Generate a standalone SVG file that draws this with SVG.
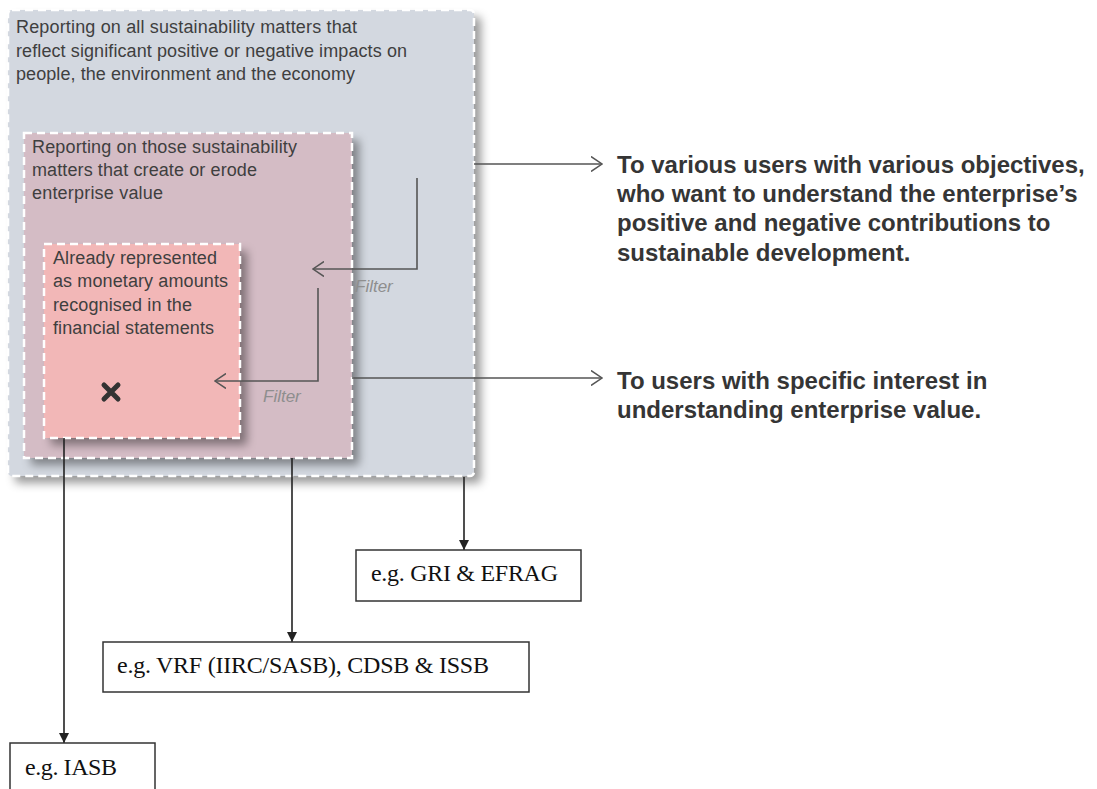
<svg xmlns="http://www.w3.org/2000/svg" width="1097" height="789" viewBox="0 0 1097 789">
  <style>
    .box-text { font-family: "Liberation Sans", Arial, sans-serif; font-size: 18px; fill: #3f3f3f; }
    .filter { font-family: "Liberation Sans", Arial, sans-serif; font-size: 17px; font-style: italic; fill: #8e8e8e; }
    .user { font-family: "Liberation Sans", Arial, sans-serif; font-size: 24px; font-weight: bold; fill: #353535; }
    .std { font-family: "Liberation Serif", "Times New Roman", serif; font-size: 24px; fill: #111; }
    .dash { stroke: #ffffff; stroke-width: 2.5; stroke-dasharray: 8 5; }
    .conn { fill: none; stroke: #555555; stroke-width: 1.6; }
    .down { fill: none; stroke: #222222; stroke-width: 1.6; }
    .stdbox { fill: #ffffff; stroke: #333333; stroke-width: 1.5; }
  </style>
  <defs>
    <filter id="shadow" x="-10%" y="-10%" width="130%" height="130%">
      <feDropShadow dx="7" dy="7" stdDeviation="5" flood-color="#000000" flood-opacity="0.4"/>
    </filter>
    <marker id="chev" viewBox="0 0 12 16" refX="11" refY="8" markerWidth="12" markerHeight="16" markerUnits="userSpaceOnUse" orient="auto">
      <path d="M0,0.5 L11,8 L0,15.5" fill="none" stroke="#555555" stroke-width="1.5"/>
    </marker>
    <marker id="tri" viewBox="0 0 10 10" refX="10" refY="5" markerWidth="10" markerHeight="10" markerUnits="userSpaceOnUse" orient="auto">
      <path d="M0,0 L10,5 L0,10 z" fill="#222222"/>
    </marker>
  </defs>

  <g id="outer-box">
    <rect x="8" y="10" width="466" height="466" rx="4" fill="#d3d8e0" filter="url(#shadow)"/>
    <rect x="8" y="10" width="466" height="466" rx="4" fill="none" class="dash"/>
    <text class="box-text" x="16" y="33" textLength="341">Reporting on all sustainability matters that</text>
    <text class="box-text" x="16" y="57" textLength="391">reflect significant positive or negative impacts on</text>
    <text class="box-text" x="16" y="80" textLength="339">people, the environment and the economy</text>
  </g>

  <g id="middle-box">
    <rect x="24" y="133" width="328" height="325" fill="#d4bcc5" filter="url(#shadow)"/>
    <rect x="24" y="133" width="328" height="325" fill="none" class="dash"/>
    <text class="box-text" x="32" y="153" textLength="265">Reporting on those sustainability</text>
    <text class="box-text" x="32" y="176" textLength="225">matters that create or erode</text>
    <text class="box-text" x="32" y="199" textLength="131">enterprise value</text>
  </g>

  <g id="inner-box">
    <rect x="44" y="244" width="196" height="194" fill="#f2b7b7" filter="url(#shadow)"/>
    <rect x="44" y="244" width="196" height="194" fill="none" class="dash"/>
    <text class="box-text" x="53" y="264" textLength="164">Already represented</text>
    <text class="box-text" x="53" y="287" textLength="175">as monetary amounts</text>
    <text class="box-text" x="53" y="311" textLength="139">recognised in the</text>
    <text class="box-text" x="53" y="334" textLength="161">financial statements</text>
    <path d="M104,385 L118,399 M118,385 L104,399" stroke="#333333" stroke-width="5" stroke-linecap="round"/>
  </g>

  <g id="connectors">
    <polyline class="conn" points="417,178 417,269 313,269" marker-end="url(#chev)"/>
    <polyline class="conn" points="318,288 318,381 215,381" marker-end="url(#chev)"/>
    <line class="conn" x1="474" y1="164" x2="602" y2="164" marker-end="url(#chev)"/>
    <line class="conn" x1="352" y1="378" x2="602" y2="378" marker-end="url(#chev)"/>
    <line class="down" x1="64" y1="438" x2="64" y2="743" marker-end="url(#tri)"/>
    <line class="down" x1="292" y1="458" x2="292" y2="642" marker-end="url(#tri)"/>
    <line class="down" x1="464" y1="477" x2="464" y2="550" marker-end="url(#tri)"/>
  </g>

  <g id="filter-labels">
    <text class="filter" x="355" y="292">Filter</text>
    <text class="filter" x="263" y="402">Filter</text>
  </g>

  <g id="users-broad">
    <text class="user" x="617" y="173">To various users with various objectives,</text>
    <text class="user" x="617" y="202">who want to understand the enterprise’s</text>
    <text class="user" x="617" y="231">positive and negative contributions to</text>
    <text class="user" x="617" y="261">sustainable development.</text>
  </g>

  <g id="users-specific">
    <text class="user" x="617" y="389">To users with specific interest in</text>
    <text class="user" x="617" y="418">understanding enterprise value.</text>
  </g>

  <g id="gri-box">
    <rect class="stdbox" x="356" y="550" width="225" height="51"/>
    <text class="std" x="371" y="581" textLength="187">e.g. GRI &amp; EFRAG</text>
  </g>

  <g id="vrf-box">
    <rect class="stdbox" x="103" y="642" width="426" height="50"/>
    <text class="std" x="117" y="673" textLength="372">e.g. VRF (IIRC/SASB), CDSB &amp; ISSB</text>
  </g>

  <g id="iasb-box">
    <rect class="stdbox" x="10" y="743" width="145" height="60"/>
    <text class="std" x="25" y="775" textLength="92">e.g. IASB</text>
  </g>
</svg>
